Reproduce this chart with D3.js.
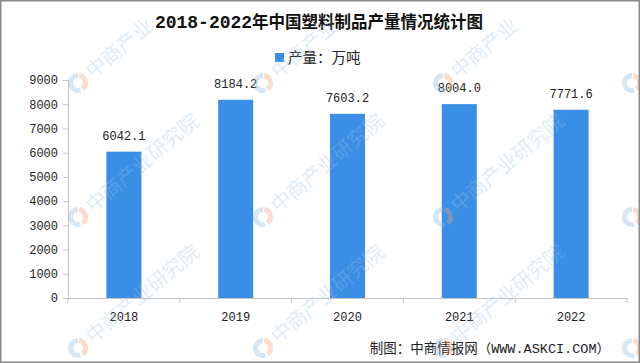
<!DOCTYPE html>
<html>
<head>
<meta charset="utf-8">
<script src="https://cdn.jsdelivr.net/npm/d3@7"></script>
<style>
  html, body { margin: 0; padding: 0; background: #fff; }
  svg { display: block; }
</style>
</head>
<body>
<svg id="chart" width="640" height="363"></svg>
<script>
// ---- data ----
const years = ["2018", "2019", "2020", "2021", "2022"];
const production = [6042.1, 8184.2, 7603.2, 8004.0, 7771.6];
const yTicks = [0, 1000, 2000, 3000, 4000, 5000, 6000, 7000, 8000, 9000];
const titleNum = "2018-2022";
const titleText = "年中国塑料制品产量情况统计图";
const legendLabel = "产量：万吨";
const sourceText = "制图：中商情报网（WWW.ASKCI.COM）";
const watermarkText = "中商产业研究院";

const W = 640, H = 363;
const barColor = "#3a8ee6";
const axisColor = "#c4c4c4";
const monoFont = "'Liberation Mono', 'Noto Sans CJK SC', monospace";
const cjkFont = "'Noto Sans CJK SC', sans-serif";

const svg = d3.select("#chart");

const x = d3.scaleBand().domain(years).range([68, 627]).padding(0);
const y = d3.scaleLinear().domain([0, 9000]).range([298, 80]);
const barW = 35;

// title
const title = svg.append("text")
  .attr("x", 319).attr("y", 28)
  .attr("text-anchor", "middle")
  .attr("font-weight", "bold")
  .attr("fill", "#111");
title.append("tspan").attr("font-family", monoFont).attr("font-size", 18).text(titleNum);
title.append("tspan").attr("font-family", cjkFont).attr("font-size", 16.5).text(titleText);

// legend
svg.append("rect").attr("x", 275).attr("y", 53).attr("width", 9).attr("height", 9).attr("fill", barColor);
svg.append("text").attr("x", 288).attr("y", 62.5)
  .attr("font-family", cjkFont).attr("font-size", 14.5).attr("fill", "#222")
  .text(legendLabel);

// y axis
const yAxis = d3.axisLeft(y).tickValues(yTicks).tickSize(5).tickPadding(5).tickFormat(d3.format("d"));
const gy = svg.append("g").attr("transform", "translate(68,0)").call(yAxis);
gy.select(".domain").attr("stroke", axisColor);
gy.selectAll(".tick line").attr("stroke", axisColor);
gy.selectAll(".tick text").attr("font-family", monoFont).attr("font-size", 12).attr("fill", "#222");

// x axis
const gx = svg.append("g").attr("transform", "translate(0,298)")
  .call(d3.axisBottom(x).tickSize(0).tickPadding(14));
gx.select(".domain").attr("stroke", axisColor);
gx.selectAll(".tick text").attr("font-family", monoFont).attr("font-size", 12).attr("fill", "#222");
// boundary ticks between categories
const bounds = years.map(d => x(d)).concat([x(years[years.length - 1]) + x.bandwidth()]);
svg.append("g").selectAll("line").data(bounds).join("line")
  .attr("x1", d => d).attr("x2", d => d)
  .attr("y1", 298).attr("y2", 303)
  .attr("stroke", axisColor);

// bars
const data = years.map((d, i) => ({ year: d, value: production[i] }));
svg.append("g").selectAll("rect").data(data).join("rect")
  .attr("x", d => x(d.year) + x.bandwidth() / 2 - barW / 2)
  .attr("y", d => y(d.value))
  .attr("width", barW)
  .attr("height", d => y(0) - y(d.value))
  .attr("fill", barColor);

// value labels
svg.append("g").selectAll("text").data(data).join("text")
  .attr("x", d => x(d.year) + x.bandwidth() / 2)
  .attr("y", d => y(d.value) - 12)
  .attr("text-anchor", "middle")
  .attr("font-family", monoFont).attr("font-size", 12).attr("fill", "#222")
  .text(d => d.value.toFixed(1));

// source
svg.append("text").attr("x", 610).attr("y", 353)
  .attr("text-anchor", "end")
  .attr("font-family", monoFont).attr("font-size", 13.5).attr("fill", "#222")
  .text(sourceText);

// watermarks (faint, drawn on top); only characters that fit inside the frame
const wmX = [-107, 78, 263, 443, 632];
const wmY = [83, 217, 348];
const ang = -40 * Math.PI / 180;
const wm = svg.append("g").attr("pointer-events", "none");
const chars = Array.from(watermarkText);
const margin = 18;
wmX.forEach(cx => wmY.forEach(cy => {
  if (cx > -20 && cx < W + 20) {
    const g = wm.append("g").attr("transform", `translate(${cx},${cy})`);
    const arc = d3.arc().innerRadius(5).outerRadius(10);
    g.append("path").attr("d", arc({ startAngle: Math.PI * 0.9, endAngle: Math.PI * 2.0 }))
      .attr("fill", "#8fb8e0").attr("opacity", 0.35);
    g.append("path").attr("d", arc({ startAngle: 0.15, endAngle: Math.PI * 0.8 }))
      .attr("fill", "#f0a070").attr("opacity", 0.35);
  }
  chars.forEach((ch, i) => {
    const t = 24 + i * 20;
    const px = cx + Math.cos(ang) * t;
    const py = cy + Math.sin(ang) * t;
    if (px < margin || px > W - margin || py < margin || py > H - margin) return;
    wm.append("text")
      .attr("transform", `translate(${px},${py}) rotate(-40)`)
      .attr("text-anchor", "middle")
      .attr("dy", "0.35em")
      .attr("font-family", cjkFont).attr("font-size", 20)
      .attr("fill", "#9cc0e4").attr("opacity", 0.3)
      .text(ch);
  });
}));

// frame
svg.append("rect").attr("x", 0.75).attr("y", 0.75).attr("width", W - 1.5).attr("height", H - 1.5)
  .attr("fill", "none").attr("stroke", "#8a8a8a").attr("stroke-width", 1.5);
</script>
</body>
</html>
